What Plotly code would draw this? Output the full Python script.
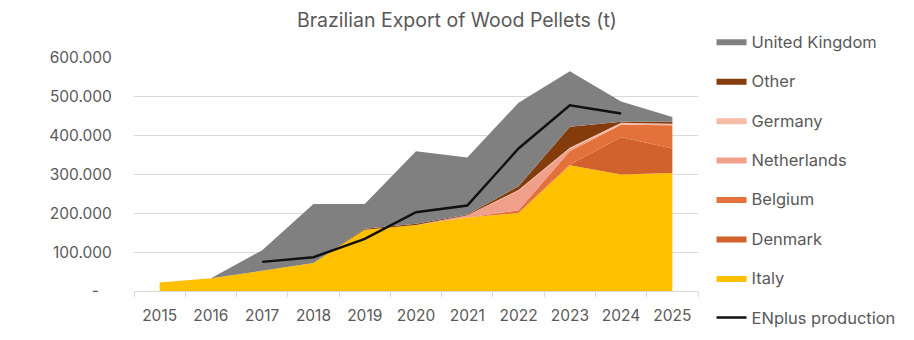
import plotly.graph_objects as go

years = ["2015", "2016", "2017", "2018", "2019", "2020", "2021", "2022", "2023", "2024", "2025"]
italy = [22000, 33000, 52000, 72000, 158000, 170000, 189000, 201000, 324000, 300000, 304000]
denmark = [0, 0, 0, 0, 0, 0, 0, 0, 2000, 96000, 63000]
belgium = [0, 0, 0, 0, 0, 0, 0, 7000, 34000, 32000, 60000]
netherlands = [0, 0, 0, 0, 0, 0, 6000, 50000, 6000, 0, 0]
germany = [0, 0, 0, 0, 0, 0, 0, 2000, 3000, 5000, 4000]
other = [0, 0, 0, 0, 2000, 3000, 2000, 10000, 54000, 3000, 5000]
uk = [0, 0, 53000, 152000, 64000, 187000, 147000, 215000, 143000, 52000, 12000]
enplus = [None, None, 75000, 87000, 134000, 203000, 220000, 367000, 478000, 457000, None]

ytick_vals = [0, 100000, 200000, 300000, 400000, 500000, 600000]
ytick_text = ["-\u00a0\u00a0\u00a0", "100.000", "200.000", "300.000", "400.000", "500.000", "600.000"]

FONT = "Inter, Open Sans, Liberation Sans, sans-serif"
TXT = "#595959"

series = [
    ("Italy", italy, "#FFC000", 7),
    ("Denmark", denmark, "#D2622C", 6),
    ("Belgium", belgium, "#E4703A", 5),
    ("Netherlands", netherlands, "#F0A08A", 4),
    ("Germany", germany, "#F4BBA8", 3),
    ("Other", other, "#843C0C", 2),
    ("United Kingdom", uk, "#808080", 1),
]

fig = go.Figure()
for name, vals, col, rank in series:
    fig.add_trace(go.Scatter(
        x=years, y=vals, name=name, stackgroup="one", mode="lines",
        line=dict(width=0, color=col), fillcolor=col,
        legendgroup=name, legendrank=rank,
    ))
fig.add_trace(go.Scatter(
    x=years, y=enplus, name="ENplus production", mode="lines",
    line=dict(color="#111111", width=2.5), legendgroup="en", legendrank=8,
))

fig.update_layout(
    width=914, height=340,
    margin=dict(l=134, r=216, t=58, b=49, autoexpand=False),
    paper_bgcolor="white", plot_bgcolor="white",
    font=dict(family=FONT, size=15, color=TXT),
    title=dict(text="Brazilian Export of Wood Pellets (t)", x=0.5, xref="container",
               xanchor="center", y=1 - 20 / 340, yref="container", yanchor="middle",
               font=dict(size=19.5, color=TXT)),
    showlegend=True,
    legend=dict(x=1.024, xanchor="left", yref="container", y=1 - 24 / 340, yanchor="top",
                traceorder="grouped", tracegroupgap=15, maxheight=1,
                font=dict(size=16.5, color=TXT), itemwidth=30),
    xaxis=dict(type="category", range=[-0.5, 10.5], tickson="boundaries",
               ticks="outside", ticklen=5, tickcolor="#D9D9D9", automargin=False,
               showline=True, linecolor="#D9D9D9", linewidth=1, ticklabelstandoff=10,
               showgrid=False, tickfont=dict(size=15.5, color=TXT)),
    yaxis=dict(range=[0, 600000], tickvals=ytick_vals, ticktext=ytick_text, automargin=False,
               showgrid=True, gridcolor="#D9D9D9", gridwidth=1,
               zeroline=False, ticks="outside", ticklen=18, tickcolor="rgba(0,0,0,0)",
               tickfont=dict(size=15.5, color=TXT)),
)

fig.write_html("out.html")
